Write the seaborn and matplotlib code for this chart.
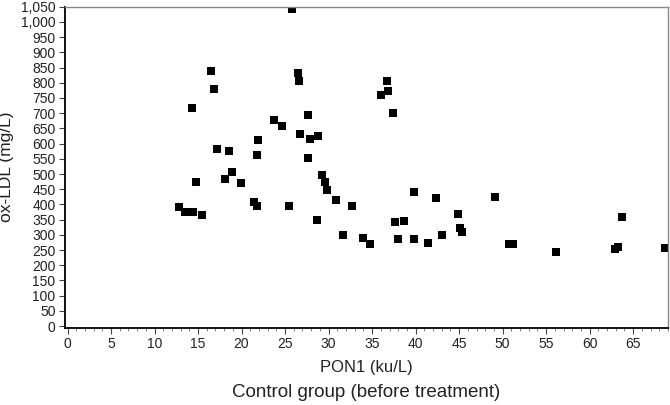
import matplotlib
matplotlib.use("Agg")
import matplotlib.pyplot as plt
import matplotlib.ticker as mticker
import seaborn as sns
import pandas as pd

# PON1 (ku/L) and ox-LDL (mg/L)
pon1 = [12.8, 13.5, 14.4, 15.5, 14.3, 14.8, 16.5, 16.8, 17.2, 18.5,
        18.1, 18.9, 19.9, 21.4, 21.8, 21.8, 21.9, 23.7, 24.7, 25.4,
        25.8, 26.5, 26.6, 26.7, 27.6, 27.6, 27.9, 28.8, 29.3, 29.6,
        29.8, 30.9, 28.7, 31.6, 32.7, 34.0, 34.8, 36.0, 36.7, 36.8,
        37.4, 37.6, 38.0, 38.7, 39.8, 39.8, 41.4, 42.4, 43.0, 44.9,
        45.1, 45.3, 49.1, 50.7, 51.2, 56.1, 62.9, 63.3, 63.7, 68.6]
oxldl = [393, 376, 376, 366, 717, 473, 839, 779, 582, 577,
         485, 505, 470, 407, 563, 395, 612, 678, 657, 395,
         1041, 832, 806, 630, 695, 551, 614, 626, 497, 475,
         448, 415, 349, 301, 394, 291, 271, 760, 806, 774,
         702, 343, 287, 347, 442, 285, 273, 422, 299, 370,
         322, 308, 425, 269, 271, 243, 253, 261, 359, 258]

x_ticks = list(range(0, 70, 5))
y_ticks = list(range(0, 1051, 50))

df = pd.DataFrame({"PON1": pon1, "oxLDL": oxldl})

sns.set_style("white")
plt.rcParams["font.family"] = ["Liberation Sans", "DejaVu Sans"]

fig = plt.figure(figsize=(6.7, 4.05), dpi=100)
ax = fig.add_axes([0.0975, 0.191, 0.8995, 0.7925])

sns.scatterplot(data=df, x="PON1", y="oxLDL", marker="s", color="black",
                s=30, edgecolor="black", linewidth=0, ax=ax, legend=False)

ax.set_xlim(-0.25, 69.0)
ax.set_ylim(-5, 1050)
ax.set_xticks(x_ticks)
ax.set_yticks(y_ticks)
ax.xaxis.set_minor_locator(mticker.MultipleLocator(1))
ax.yaxis.set_major_formatter(mticker.FuncFormatter(lambda v, p: f"{int(v):,}"))

ax.tick_params(axis="both", which="major", direction="out", length=4, width=0.8,
               color="#444444", labelsize=10, labelcolor="#222222", pad=3,
               bottom=True, left=True)
ax.tick_params(axis="x", which="minor", direction="out", length=2, width=0.6,
               color="#666666", bottom=True)

for side in ["left", "bottom"]:
    ax.spines[side].set_color("black")
    ax.spines[side].set_linewidth(1.3)
for side in ["top", "right"]:
    ax.spines[side].set_color("#888888")
    ax.spines[side].set_linewidth(1.0)

ax.set_xlabel("PON1 (ku/L)", fontsize=12, color="#222222", labelpad=6)
ax.set_ylabel("ox-LDL (mg/L)", fontsize=12.5, color="#222222", labelpad=5)

fig.text(0.547, 0.032, "Control group (before treatment)", ha="center",
         va="center", fontsize=13.5, color="#222222")

fig.savefig("out.png", dpi=100)
